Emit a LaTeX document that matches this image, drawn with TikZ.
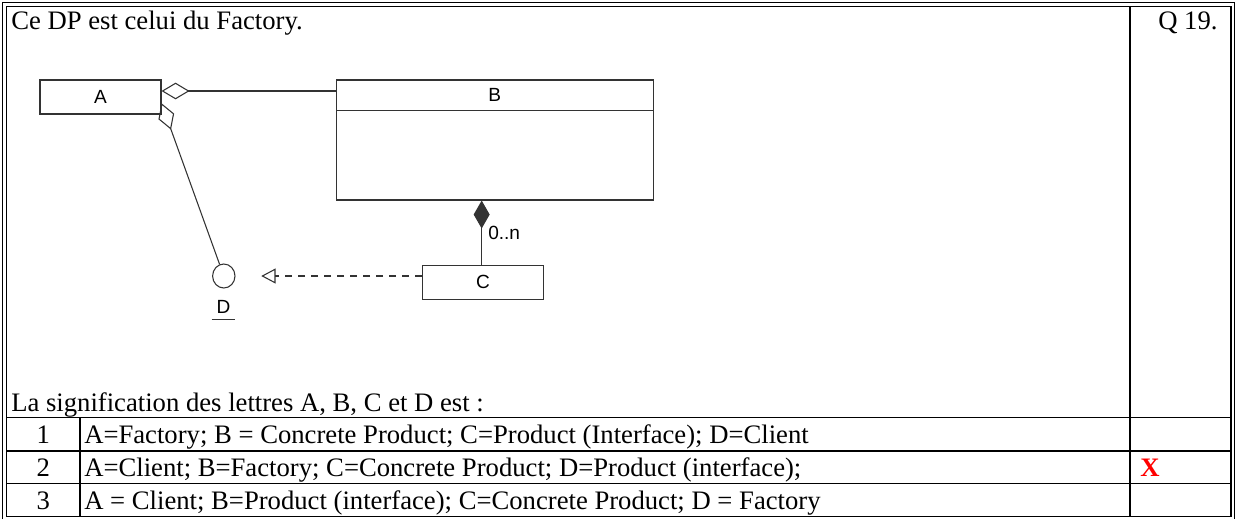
\documentclass[tikz,border=0pt]{standalone}
\usepackage{fontspec}
\setmainfont{Liberation Serif}
\newfontfamily\umlfont{Liberation Sans}
\usetikzlibrary{arrows.meta,shapes.geometric}
\begin{document}
\begin{tikzpicture}[x=0.75pt,y=-0.75pt,
  rule/.style={line width=1.1pt,black},
  frame/.style={line width=1pt,black},
  txt/.style={font=\fontsize{20}{24}\selectfont,inner sep=0pt,anchor=base west},
  num/.style={font=\fontsize{20}{24}\selectfont,inner sep=0pt,anchor=base},
  umlline/.style={line width=0.8pt,draw=black!80},
  cls/.style={draw=black!80,line width=0.8pt,rectangle,inner sep=0pt,
    font=\umlfont\fontsize{14.3}{16}\selectfont},
  umltxt/.style={inner sep=0pt,font=\umlfont\fontsize{14.3}{16}\selectfont},
  agg/.style={{Diamond[open,length=21pt,width=12.5pt]}-},
  comp/.style={{Diamond[length=21pt,width=12pt]}-},
  realize/.style={dash pattern=on 5.25pt off 4.5pt,-{Triangle[open,length=10.7pt,width=11.2pt]}},
]
\useasboundingbox (0,0) rectangle (1237,519);

% ---- question frame (double border) ----
\draw[frame] (2.5,519) -- (2.5,2.8) -- (1234.5,2.8) -- (1234.5,519);
\draw[frame] (6.5,516.7) -- (6.5,6.8) -- (1231,6.8) -- (1231,516.7);
\draw[rule] (6.5,516.7) -- (1231,516.7);
\draw[rule] (1130,6.8) -- (1130,516.7);
\draw[rule] (6.5,417.7) -- (1231,417.7);
\draw[rule] (6.5,451) -- (1231,451);
\draw[rule] (6.5,483.3) -- (1231,483.3);
\draw[rule] (80,417.7) -- (80,516.7);

% ---- texts ----
\node[txt] (title) at (11,29) {Ce DP est celui du Factory.};
\node[txt] (qnum) at (1158,29) {Q 19.};
\node[txt] (ask) at (11,411) {La signification des lettres A, B, C et D est :};
\node[num] (n1) at (43.3,443.2) {1};
\node[num] (n2) at (43.3,476.5) {2};
\node[num] (n3) at (43.3,509) {3};
\node[txt] (r1) at (84,443.2) {A=Factory; B = Concrete Product; C=Product (Interface); D=Client};
\node[txt] (r2) at (84,476.5) {A=Client; B=Factory; C=Concrete Product; D=Product (interface);};
\node[txt] (r3) at (84,509) {A = Client; B=Product (interface); C=Concrete Product; D = Factory};
\node[txt,text=red,font=\fontsize{20}{24}\selectfont\bfseries] (mark) at (1140,476.5) {X};

% ---- UML classes ----
\node[cls,minimum width={121*0.75pt},minimum height={34*0.75pt}] (A) at (100.5,97) {A};
\node[cls,minimum width={317.3*0.75pt},minimum height={30.7*0.75pt}] (B) at (494.7,95.35) {B};
\node[cls,minimum width={317.3*0.75pt},minimum height={89.3*0.75pt}] (Bb) at (494.7,155.35) {};
\node[cls,minimum width={120.6*0.75pt},minimum height={34.3*0.75pt}] (C) at (483,282.2) {C};
\node[draw=black!80,line width=0.8pt,ellipse,inner sep=0pt,
  minimum width={22.4*0.75pt},minimum height={24*0.75pt}] (D) at (223.8,276) {};
\node[umltxt,minimum width={23*0.75pt},minimum height={25.2*0.75pt}] (Dl) at (223.5,306.7) {D};
\draw[umlline] (Dl.south west) -- (Dl.south east);

% ---- relations ----
\coordinate (aR) at ([yshift=4.5pt]A.east);
\coordinate (aD) at ([yshift=-4.7pt]A.east);
\draw[umlline,agg] (aR) -- (aR -| B.west);
\draw[umlline,agg] (aD) -- (D);
\coordinate (cT) at ([xshift=-1pt]C.north);
\draw[umlline,comp] (cT |- Bb.south) -- (cT);
\node[umltxt,anchor=west] (mult) at (488,233.3) {0..n};
\draw[umlline,realize,shorten >=19.3pt] (C.west |- D.center) -- (D);
\end{tikzpicture}
\end{document}
